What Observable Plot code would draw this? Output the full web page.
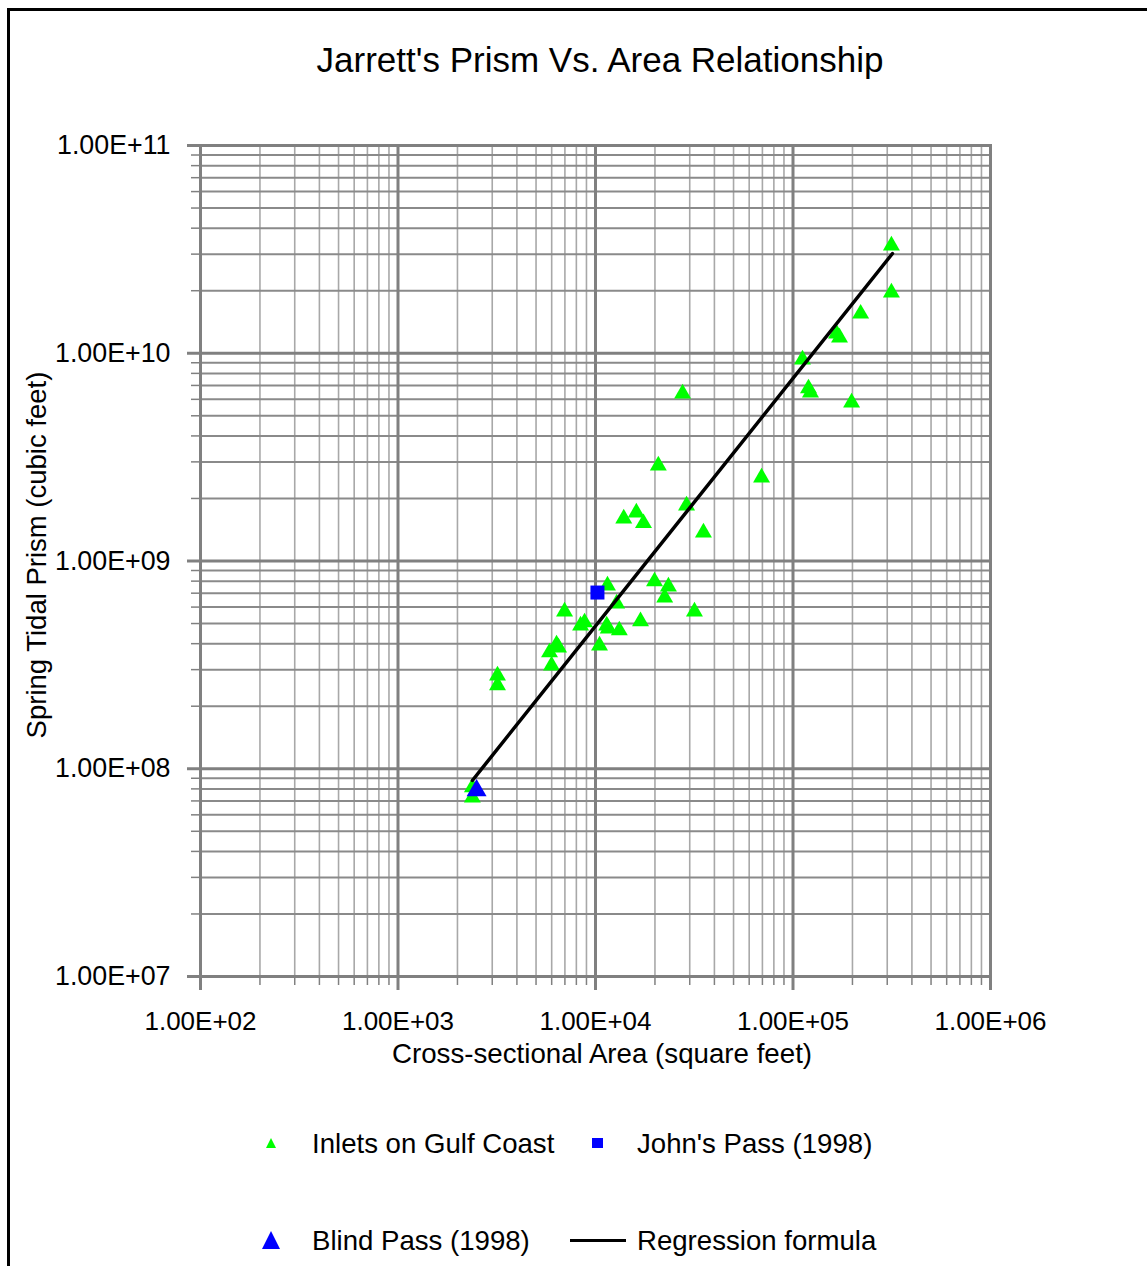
<!DOCTYPE html>
<html><head><meta charset="utf-8">
<script src="https://cdn.jsdelivr.net/npm/d3@7"></script>
<script src="https://cdn.jsdelivr.net/npm/@observablehq/plot@0.6"></script>
<style>
body{margin:0;background:#fff;font-family:"Liberation Sans",Arial,sans-serif;}
#wrap{position:relative;width:1147px;height:1266px;overflow:hidden;background:#fff;}
#border{position:absolute;left:7px;top:8px;width:1300px;height:1400px;border-left:3px solid #000;border-top:3px solid #000;}
.t{position:absolute;white-space:nowrap;color:#000;}
.sym{position:absolute;line-height:0;}
.sym svg{display:block;}
</style></head><body>
<div id="wrap">
<div id="border"></div>
<div id="chart" style="position:absolute;left:0;top:0"></div>
<div class="t" style="left:0;width:1200px;text-align:center;top:42px;font-size:35px;line-height:35px">Jarrett's Prism Vs. Area Relationship</div>
<div class="t" style="left:37px;top:555px;font-size:27.5px;line-height:27.5px;transform:translate(-50%,-50%) rotate(-90deg)">Spring Tidal Prism (cubic feet)</div>
<div class="t" style="left:0;width:1204px;text-align:center;top:1040px;font-size:27.7px;line-height:27.7px">Cross-sectional Area (square feet)</div>
<div id="legend"></div>
</div>
<script>
// ---- data ----
const inletArea = [315000, 315000, 220000, 166000, 172000, 111700, 119800, 122600, 198000,
  27600, 20800, 69300, 28900, 16100, 13900, 17500, 35200,
  19900, 23400, 22400, 11500, 31700, 6970, 12800, 16900, 13200, 11600, 11400,
  10480, 8400, 8800, 6350, 6500, 5850, 5990, 3190, 3190, 2380, 2380];
const inletPrism = [3.30e10, 1.96e10, 1.55e10, 1.245e10, 1.19e10, 9.33e9, 6.77e9, 6.47e9, 5.79e9,
  6.40e9, 2.88e9, 2.52e9, 1.85e9, 1.71e9, 1.60e9, 1.52e9, 1.37e9,
  7.97e8, 7.54e8, 6.67e8, 7.62e8, 5.71e8, 5.71e8, 6.24e8, 5.12e8, 4.63e8, 4.73e8, 4.89e8,
  3.92e8, 4.89e8, 5.06e8, 3.96e8, 3.83e8, 3.63e8, 3.14e8, 2.81e8, 2.52e8, 8.13e7, 7.27e7];
const johnsArea = [10230];
const johnsPrism = [7.05e8];
const blindArea = [2500];
const blindPrism = [7.86e7];
const regArea = [2380, 319000];
const regPrism = [8.78e7, 3.02e10];

const xDecades = [1e2, 1e3, 1e4, 1e5, 1e6];
const xTickLabels = ["1.00E+02", "1.00E+03", "1.00E+04", "1.00E+05", "1.00E+06"];
const yDecades = [1e7, 1e8, 1e9, 1e10, 1e11];
const yTickLabels = ["1.00E+07", "1.00E+08", "1.00E+09", "1.00E+10", "1.00E+11"];
const multipliers = [2, 3, 4, 5, 6, 7, 8, 9];

const legendItems = [
  {label: "Inlets on Gulf Coast", kind: "smalltri", color: "#00ff00"},
  {label: "John's Pass (1998)", kind: "square", color: "#0000ff"},
  {label: "Blind Pass (1998)", kind: "bigtri", color: "#0000ff"},
  {label: "Regression formula", kind: "line", color: "#000000"}
];

// ---- build tables ----
const inlets = inletArea.map((a, i) => ({a, p: inletPrism[i]}));
const johns = johnsArea.map((a, i) => ({a, p: johnsPrism[i]}));
const blind = blindArea.map((a, i) => ({a, p: blindPrism[i]}));
const reg = regArea.map((a, i) => ({a, p: regPrism[i]}));
const xMinor = xDecades.slice(0, -1).flatMap(d => multipliers.map(m => m * d));
const yMinor = yDecades.slice(0, -1).flatMap(d => multipliers.map(m => m * d));

const chart = Plot.plot({
  width: 1147,
  height: 1100,
  marginLeft: 200,
  marginRight: 157,
  marginTop: 145,
  marginBottom: 124,
  style: {fontFamily: "'Liberation Sans', Arial, sans-serif", background: "transparent", color: "#000"},
  x: {type: "log", domain: [1e2, 1e6], label: null},
  y: {type: "log", domain: [1e7, 1e11], label: null},
  marks: [
    Plot.gridX(xMinor, {stroke: "#a8a8a8", strokeOpacity: 1, strokeWidth: 1.6}),
    Plot.gridY(yMinor, {stroke: "#8a8a8a", strokeOpacity: 1, strokeWidth: 2}),
    Plot.gridX(xDecades, {stroke: "#808080", strokeOpacity: 1, strokeWidth: 3}),
    Plot.gridY(yDecades, {stroke: "#808080", strokeOpacity: 1, strokeWidth: 3}),
    Plot.axisX(xMinor, {tickSize: 9, stroke: "#808080", strokeWidth: 1.5, tickFormat: () => "", label: null}),
    Plot.axisY(yMinor, {tickSize: 9, stroke: "#808080", strokeWidth: 1.5, tickFormat: () => "", label: null}),
    Plot.axisX(xDecades, {tickSize: 14, tickPadding: 21, stroke: "#808080", strokeWidth: 3, fontSize: 26, fill: "#000",
      tickFormat: d => xTickLabels[xDecades.indexOf(d)], label: null}),
    Plot.axisY(yDecades, {tickSize: 13, tickPadding: 17, stroke: "#808080", strokeWidth: 3, fontSize: 26.8, fill: "#000",
      tickFormat: d => yTickLabels[yDecades.indexOf(d)], label: null}),
    Plot.frame({stroke: "#808080", strokeWidth: 3}),
    Plot.dot(inlets, {x: "a", y: "p", symbol: "triangle", r: 6.3, fill: "#00ff00", stroke: "none"}),
    Plot.line(reg, {x: "a", y: "p", stroke: "#000", strokeWidth: 3.5}),
    Plot.dot(johns, {x: "a", y: "p", symbol: "square", r: 7.9, fill: "#0000ff", stroke: "none"}),
    Plot.dot(blind, {x: "a", y: "p", symbol: "triangle", r: 7.4, fill: "#0000ff", stroke: "none"})
  ]
});
document.getElementById("chart").appendChild(chart);

// ---- legend (HTML) ----
const legendPos = [
  {sx: 271, tx: 312, y: 1143},
  {sx: 597, tx: 637, y: 1143},
  {sx: 271, tx: 312, y: 1240},
  {sx: 597, tx: 637, y: 1240}
];
const leg = document.getElementById("legend");
legendItems.forEach((it, i) => {
  const pos = legendPos[i];
  const sym = document.createElement("div");
  sym.className = "sym";
  let svg;
  if (it.kind === "smalltri") {
    sym.style.cssText = `left:${pos.sx - 5}px;top:${pos.y - 5}px`;
    svg = `<svg width="10" height="10"><polygon points="5,0 10,10 0,10" fill="${it.color}"/></svg>`;
  } else if (it.kind === "square") {
    sym.style.cssText = `left:${pos.sx - 5}px;top:${pos.y - 5}px`;
    svg = `<svg width="11" height="10"><rect width="11" height="10" fill="${it.color}"/></svg>`;
  } else if (it.kind === "bigtri") {
    sym.style.cssText = `left:${pos.sx - 9}px;top:${pos.y - 9}px`;
    svg = `<svg width="18" height="18"><polygon points="9,0 18,18 0,18" fill="${it.color}"/></svg>`;
  } else {
    sym.style.cssText = `left:${pos.sx - 27}px;top:${pos.y - 1}px`;
    svg = `<svg width="56" height="3"><rect width="56" height="3" fill="${it.color}"/></svg>`;
  }
  sym.innerHTML = svg;
  leg.appendChild(sym);
  const t = document.createElement("div");
  t.className = "t";
  t.style.cssText = `left:${pos.tx}px;top:${pos.y - 13}px;font-size:27.6px;line-height:27.6px`;
  t.textContent = it.label;
  leg.appendChild(t);
});
</script>
</body></html>
